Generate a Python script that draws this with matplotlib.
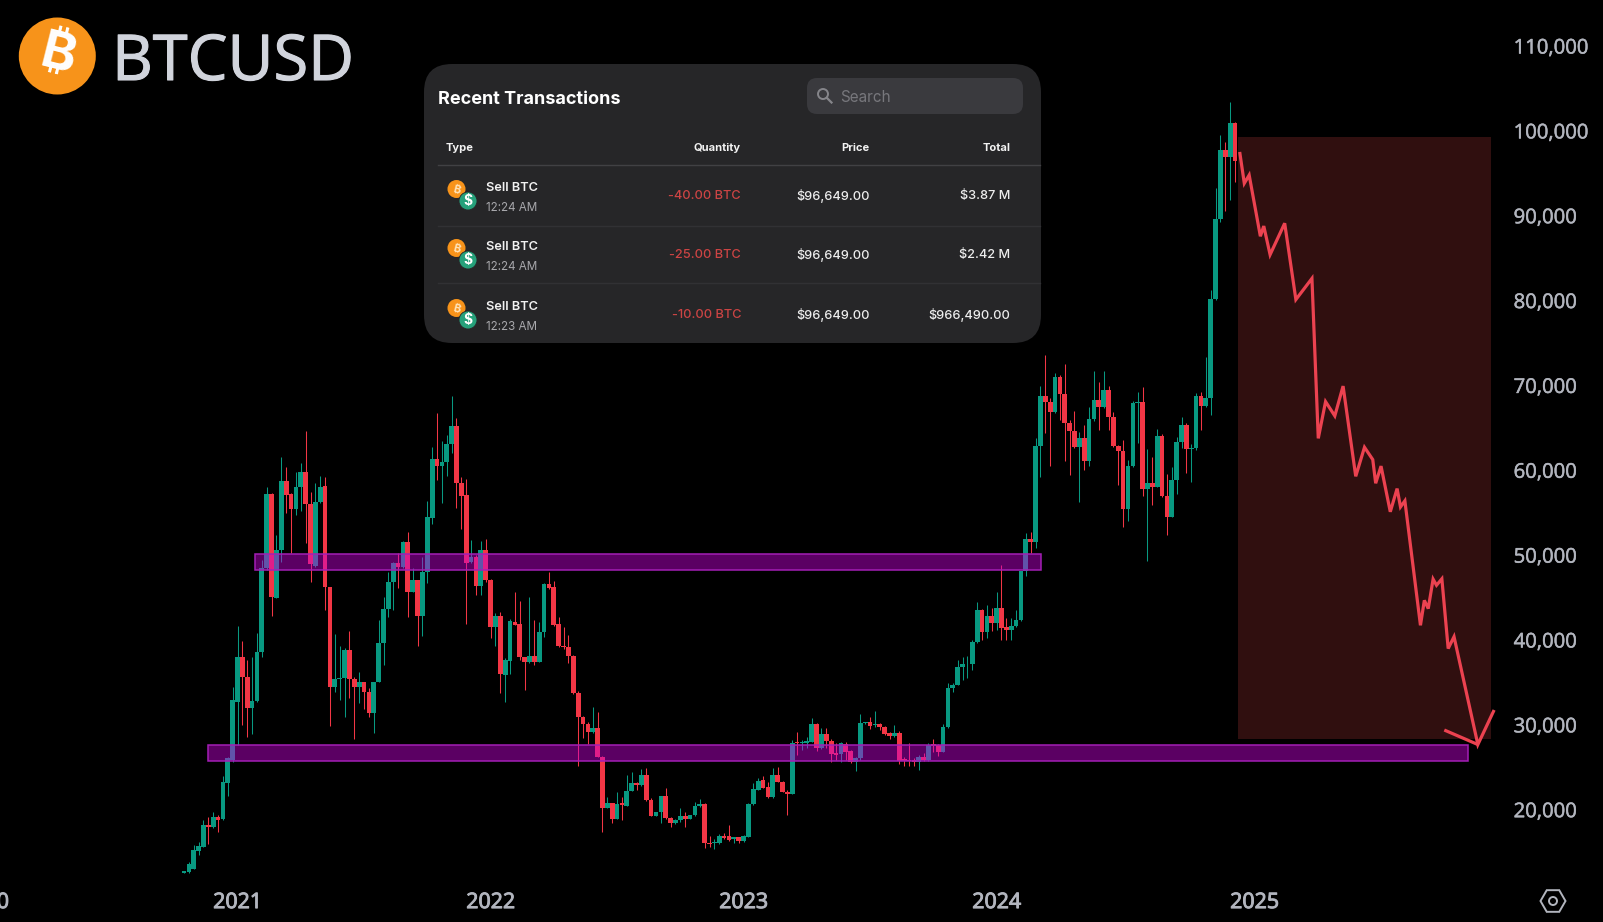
import math
import matplotlib
matplotlib.use("Agg")
import matplotlib.pyplot as plt
import matplotlib.patheffects as pe
from matplotlib.patches import Rectangle, FancyBboxPatch, Circle, RegularPolygon

# weekly candles, USD
opens = [
    12580,12620,13010,15180,15650,18200,17930,19100,18870,23190,
    25860,32740,37960,35600,32030,32850,38630,48450,57210,44990,
    50610,58740,57170,55480,57990,59800,55990,48760,56300,58150,
    46290,34420,35370,35560,38820,35370,34420,35010,33910,31440,
    35090,39610,43620,46880,49040,48570,51550,45700,47070,42870,
    47980,54340,61290,60550,61020,63100,65220,58460,57090,49230,
    49820,46400,50610,47070,41570,42830,35920,37570,42160,41850,
    38040,37450,38160,37450,40980,46600,46210,41850,39330,39220,
    38120,33720,30970,30060,29200,29590,26250,20240,20750,18910,
    20750,20480,22250,23110,22910,24050,21150,19300,19690,21620,
    18990,18480,18790,19220,18950,19380,20480,20670,16110,16040,
    16110,16900,16900,16590,16740,16310,16820,20640,22360,23500,
    22640,21460,24050,23310,22130,21850,27980,27820,27900,28020,
    30100,27310,28980,28100,26650,26530,27750,26920,25660,26060,
    30180,30340,29980,30060,29790,29080,28690,29080,25940,25860,
    25860,25580,26250,25860,27700,27630,26800,29710,34300,34740,
    36780,37170,37170,39730,43540,40980,42830,41960,43730,41490,
    41180,41690,42360,48170,51860,51510,62870,68760,68090,66910,
    71040,68990,65540,64670,62790,63770,61140,66010,68290,67500,
    69460,66320,62870,62310,55440,60550,67970,68050,57800,58470,
    57990,64040,57010,54540,58860,63300,65340,62510,62590,68760,
    67580,68480,80150,89580,97750,96960,100970,
]
highs = [
    12800,13800,15840,16240,18790,19180,19690,19380,24020,26250,
    34500,41690,39880,37650,38040,40790,49430,58070,57290,52380,
    61530,60350,57290,59840,60900,64630,57480,58460,59330,59250,
    46290,40670,39300,39020,41060,35680,36270,35090,34310,35090,
    42360,45110,48050,49230,50290,51670,52690,48530,47070,49820,
    56420,62710,66790,63490,64160,68790,66200,59250,58970,51790,
    50020,51670,51860,47190,43140,43260,37840,42440,45620,44600,
    38040,45030,42360,42120,46760,48050,46950,42750,41570,40590,
    38230,33990,31080,30380,32070,31480,26330,21540,20830,22130,
    21540,24090,24480,23310,24760,24960,21340,19770,21620,22520,
    19180,18870,20240,19730,19420,20950,21220,20750,16940,16510,
    17100,17220,18200,16820,16820,16980,20750,23110,23700,23970,
    23310,24960,25000,23380,22320,28220,29200,28220,28610,30770,
    30180,29670,29590,28330,27820,28020,28020,27040,26250,31280,
    30380,30970,31630,30260,29870,29200,29980,29320,26250,27820,
    26060,26450,26650,27820,28290,27710,30100,34890,34890,37640,
    37960,38150,40000,44440,43610,44120,43730,45700,48840,42550,
    42550,43540,48170,52650,52690,63770,69940,73590,68480,71430,
    71230,72530,65930,66990,64550,65340,67500,71700,70370,71700,
    69940,66910,62980,63570,61220,68210,69190,69860,62470,61610,
    64830,64240,59570,60350,63890,66320,65540,63060,69150,69270,
    73390,81250,93230,99510,98730,103360,101080,
]
lows = [
    12500,12500,12970,14670,15600,15960,17810,17420,18790,21660,
    25660,27630,29990,28610,28930,32740,37960,48250,42870,44910,
    49230,54930,50290,54730,55240,51390,46880,48640,56110,43540,
    29870,33910,32930,30890,33210,28340,32540,31830,30890,29080,
    35000,37060,42670,43540,46090,48450,42750,45660,39330,40470,
    46680,53670,58860,56190,59330,62080,55520,53080,41850,49040,
    45300,45300,46880,40280,39330,33800,32740,36000,41770,37650,
    34110,37330,37060,37370,40320,46010,41690,39220,38900,37250,
    33640,25190,28410,27750,29080,26170,17410,20160,18480,18870,
    18790,20480,22250,22320,22800,21070,19260,19260,18400,18950,
    17980,18360,18590,17980,18870,19260,20360,15450,15640,15330,
    15960,16510,16310,16110,16110,16230,16750,20560,22320,22520,
    21340,21380,23230,22050,19380,21810,26450,27040,27230,27940,
    26920,27120,27230,25660,25860,25660,25860,25550,24600,25860,
    30100,29510,29790,29390,28840,28370,28530,25390,25150,25150,
    25150,24680,25780,25780,26840,26330,26760,29590,33910,34700,
    35290,35480,36470,39690,40000,40200,41100,41180,40000,40000,
    40000,41570,42200,47540,50220,50810,59170,64360,60510,66790,
    65930,61140,59450,62590,56310,60040,60510,65850,64750,67300,
    64750,62790,58270,53360,54070,60430,63260,56970,49350,55910,
    57990,56890,52380,54460,57210,62590,59640,58660,62390,64750,
    67500,66520,80070,89300,90600,91850,94010,
]
closes = [
    12780,13600,15260,15730,18200,17930,19100,18790,23230,26060,
    32930,37960,35600,32030,32850,38550,48450,57210,45030,50610,
    58740,57090,55480,57990,59800,55990,48920,56300,57990,46210,
    34420,35370,35560,38820,35370,34420,35010,33910,31440,35090,
    39610,43620,46880,49040,48570,51550,45700,47070,42870,47980,
    54460,61290,60550,61020,63100,65220,58460,56970,49110,49820,
    46400,50610,47070,41570,42830,36000,37650,42240,41770,38040,
    37450,38160,37450,40980,46600,46090,41770,39300,39220,38120,
    33720,30970,30060,29200,29590,26250,20240,20750,18910,20640,
    20560,22250,23110,22910,24050,21150,19300,19690,21620,18990,
    18480,18790,19220,18950,19380,20480,20670,16040,15960,16190,
    16900,16630,16430,16740,16310,16900,20640,22440,23420,22600,
    21460,24050,23310,22130,21850,27820,27820,28020,28100,30100,
    27310,28980,28100,26570,26450,27820,26800,25660,26060,30180,
    30340,29910,30060,29790,28920,28690,29080,25780,25780,25780,
    25580,26250,25860,27630,27550,26800,29710,34300,34740,36780,
    37170,37200,39730,43540,40980,42830,41960,43730,41450,41180,
    41690,42360,48170,51860,51510,62870,68760,68090,66910,71040,
    68990,65540,64670,62790,63770,61140,66010,68290,67500,69460,
    66320,62870,62310,55440,60550,67970,68050,57800,58470,57990,
    64040,57010,54540,58860,63300,65340,62510,62590,68760,67580,
    68480,80150,89580,97750,96960,100970,96490,
]

# drawn forecast, week number and price
forecast_weeks = [217.0,217.9,218.9,221.2,221.9,223.2,226.2,228.5,231.8,233.1,234.6,236.5,238.2,240.8,
                  242.6,244.3,244.9,246.0,247.9,249.3,250.0,250.9,254.1,254.9,255.7,256.7,257.4,258.5,
                  259.8,261.0,265.9,269.1]
forecast_prices = [97330,93820,94790,87580,88780,85410,89110,80120,82610,63760,68090,66410,69920,59290,
                   62710,61260,58470,60490,55110,57840,55680,56400,41730,44670,43700,47170,46450,47210,
                   38990,40390,27680,31580]
arrow_weeks = [259.0, 265.9]
arrow_prices = [29390, 27680]

# zones: start week, end week, low price, high price
upper_zone = [14.65, 176.1, 48210, 50100]
lower_zone = [5.0, 263.9, 25700, 27590]
forecast_zone = [216.6, 268.5, 28330, 99220]

y_ticks = [20000,30000,40000,50000,60000,70000,80000,90000,100000,110000]
x_ticks = [-41, 11, 63, 115, 167, 220]
x_labels = ["2020", "2021", "2022", "2023", "2024", "2025"]

table_headers = ["Type", "Quantity", "Price", "Total"]
row_names = ["Sell BTC", "Sell BTC", "Sell BTC"]
row_times = ["12:24 AM", "12:24 AM", "12:23 AM"]
row_quantities = ["-40.00 BTC", "-25.00 BTC", "-10.00 BTC"]
row_prices = ["$96,649.00", "$96,649.00", "$96,649.00"]
row_totals = ["$3.87 M", "$2.42 M", "$966,490.00"]

GREEN = "#089981"
RED = "#F23645"
LINE_RED = "#EC4250"
TICK = "#B2B5BE"
W, H = 1603, 922
STEP = 4.866      # pixels per week
X0 = 184          # pixel of first candle
Y_PER_PX = 117.85 # dollars per pixel
BTC_FONTS = ["Inter", "Noto Sans", "Roboto", "Lato", "DejaVu Sans"]

plt.rcParams["font.family"] = ["Open Sans", "DejaVu Sans"]
fig = plt.figure(figsize=(W / 100, H / 100), dpi=100, facecolor="black")

# main chart, runs a bit past the left edge so the 2020 label gets cut off
left, right, bottom = -30, 1505, 880
ax = fig.add_axes([left / W, 1 - bottom / H, (right - left) / W, bottom / H])
ax.set_facecolor("black")
ax.set_xlim((left - X0) / STEP, (right - X0) / STEP)
ax.set_ylim(115423 - Y_PER_PX * bottom, 115423)
for s in ax.spines.values():
    s.set_visible(False)

ax.add_patch(Rectangle((forecast_zone[0], forecast_zone[2]), forecast_zone[1] - forecast_zone[0],
                       forecast_zone[3] - forecast_zone[2], facecolor="#300F0F", edgecolor="none", zorder=1))

for i in range(len(opens)):
    col = GREEN if closes[i] >= opens[i] else RED
    ax.vlines(i, lows[i], highs[i], color=col, linewidth=0.75, zorder=2)
    ax.bar(i, abs(closes[i] - opens[i]), bottom=min(opens[i], closes[i]), width=0.97, color=col,
           linewidth=0, zorder=3)

for zone in [upper_zone, lower_zone]:
    ax.add_patch(Rectangle((zone[0], zone[2]), zone[1] - zone[0], zone[3] - zone[2],
                           facecolor=(0.8, 0.0, 0.87, 0.45), edgecolor="#A31FB5", linewidth=1.1, zorder=4))

ax.plot(forecast_weeks, forecast_prices, color=LINE_RED, linewidth=2.3, solid_joinstyle="miter", zorder=5)
ax.plot(arrow_weeks, arrow_prices, color=LINE_RED, linewidth=2.3, solid_capstyle="butt", zorder=5)

ax.set_xticks(x_ticks)
ax.set_xticklabels(x_labels)
ax.set_yticks(y_ticks)
ax.set_yticklabels([f"{v:,}" for v in y_ticks])
ax.yaxis.tick_right()
ax.tick_params(axis="y", length=0, pad=6.2, labelsize=14.6, labelcolor=TICK)
ax.tick_params(axis="x", length=0, pad=8.7, labelsize=15.4, labelcolor=TICK)
# open sans only comes in one weight here, thicken the labels a bit
for lab in ax.get_xticklabels():
    lab.set_path_effects([pe.withStroke(linewidth=0.7, foreground=TICK)])
for lab in ax.get_yticklabels():
    lab.set_path_effects([pe.withStroke(linewidth=0.35, foreground=TICK)])

# overlay in pixel coordinates for the logo, the pasted panel and the settings icon
ov = fig.add_axes([0, 0, 1, 1], zorder=10)
ov.set_xlim(0, W)
ov.set_ylim(H, 0)
ov.axis("off")
ov.patch.set_alpha(0)

ov.add_patch(Circle((57.3, 56), 38.5, facecolor="#F7931A", edgecolor="none"))
ov.text(57.5, 56, "\u20bf", color="white", fontsize=38, fontweight="bold", rotation=-14,
        ha="center", va="center", family=BTC_FONTS)
logo_txt = ov.text(112, 80, "BTCUSD", color="#D1D4DC", fontsize=45.5, ha="left", va="baseline")
logo_txt.set_path_effects([pe.withStroke(linewidth=0.8, foreground="#D1D4DC")])

# transactions panel
ov.add_patch(FancyBboxPatch((424 + 28, 64 + 28), 617 - 56, 279 - 56, boxstyle="round,pad=28,rounding_size=28",
                            facecolor="#262628", edgecolor="none"))
ov.add_patch(FancyBboxPatch((807 + 10, 78 + 10), 216 - 20, 36 - 20, boxstyle="round,pad=10,rounding_size=10",
                            facecolor="#3A3A3E", edgecolor="none"))
ov.add_patch(Circle((823, 94), 5, facecolor="none", edgecolor="#85858A", linewidth=1.4))
ov.plot([826.8, 831.5], [97.8, 102.5], color="#85858A", linewidth=1.6)
ov.text(840, 98, "Search", color="#77777C", fontsize=11, va="center", family="Inter")
ov.text(438, 99, "Recent Transactions", color="white", fontsize=13, fontweight="bold", va="center", family="Inter")

head_x = [445.5, 741, 869.5, 1010.5]
head_ha = ["left", "right", "right", "right"]
for t, x, ha in zip(table_headers, head_x, head_ha):
    ov.text(x, 148, t, color="#F2F2F2", fontsize=8.0, fontweight="bold", ha=ha, va="center", family="Inter")

ov.plot([438, 1040], [165.5, 165.5], color="#414144", linewidth=1)
for y in [226, 283]:
    ov.plot([438, 1040], [y, y], color="#313134", linewidth=1)

row_y = [195, 254, 314]
for i, y in enumerate(row_y):
    ov.add_patch(Circle((456.5, y - 6), 9, facecolor="#F7931A", edgecolor="none"))
    ov.text(456.5, y - 6, "\u20bf", color="#FFE3B8", fontsize=8, fontweight="bold", rotation=-14,
            ha="center", va="center", family=BTC_FONTS)
    ov.add_patch(Circle((468, y + 6), 9, facecolor="#26A17B", edgecolor="#262628", linewidth=0.6))
    ov.text(468, y + 6, "$", color="white", fontsize=10, fontweight="bold", ha="center", va="center", family="Inter")
    ov.text(485.5, y - 7, row_names[i], color="#F2F2F2", fontsize=9.2, fontweight="semibold", va="center", family="Inter")
    ov.text(485.5, y + 13, row_times[i], color="#A8A8AC", fontsize=8.4, va="center", family="Inter")
    ov.text(741, y + 1, row_quantities[i], color="#CC4444", fontsize=9.2, fontweight="medium", ha="right", va="center", family="Inter")
    ov.text(869.5, y + 1, row_prices[i], color="#EDEDED", fontsize=9.2, fontweight="medium", ha="right", va="center", family="Inter")
    ov.text(1010.5, y + 1, row_totals[i], color="#EDEDED", fontsize=9.2, fontweight="medium", ha="right", va="center", family="Inter")

# settings hexagon, bottom right
ov.add_patch(RegularPolygon((1553, 901), 6, radius=12.5, orientation=math.pi / 2,
                            facecolor="none", edgecolor=TICK, linewidth=1.4))
ov.add_patch(Circle((1553, 901), 4, facecolor="none", edgecolor=TICK, linewidth=1.4))

fig.savefig("out.png", dpi=100, facecolor="black")
